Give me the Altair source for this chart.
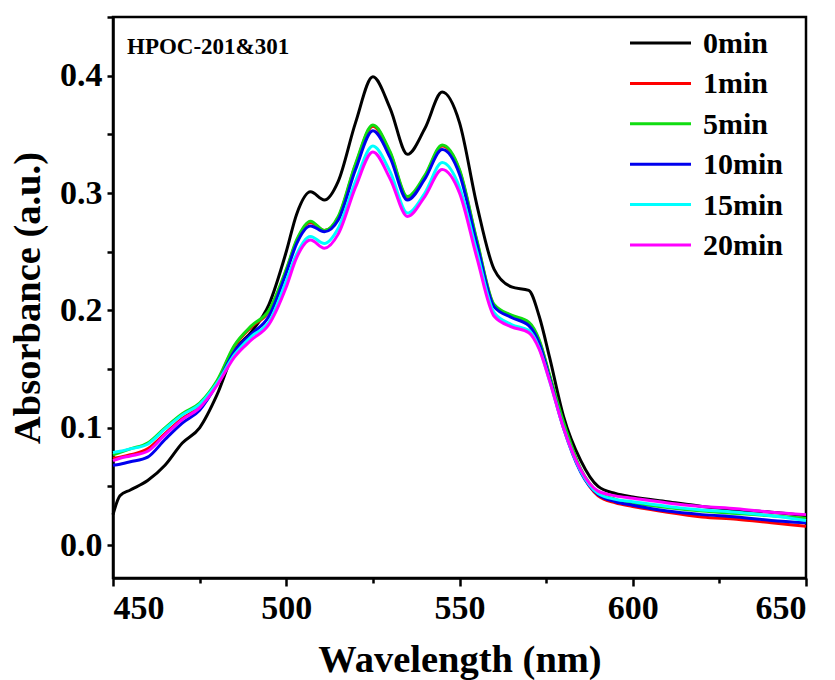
import altair as alt
import pandas as pd

wavelength = [450, 452, 455, 460, 465, 470, 475, 480, 485, 490, 495, 500, 503, 507, 511, 515, 520, 525,
              530, 535, 540, 545, 550, 555, 560, 565, 570, 573, 576, 580, 585, 590, 595, 600, 610, 620,
              630, 640, 650]

t0 = [0.026, 0.042, 0.047, 0.055, 0.068, 0.087, 0.100, 0.128, 0.165, 0.182, 0.205, 0.250, 0.282, 0.301,
      0.294, 0.310, 0.360, 0.399, 0.372, 0.333, 0.355, 0.386, 0.360, 0.290, 0.235, 0.220, 0.217, 0.195,
      0.160, 0.110, 0.072, 0.050, 0.044, 0.041, 0.037, 0.033, 0.030, 0.028, 0.025]
t1 = [0.074, 0.075, 0.077, 0.082, 0.095, 0.108, 0.118, 0.139, 0.169, 0.186, 0.199, 0.234, 0.259, 0.275,
      0.268, 0.279, 0.324, 0.357, 0.334, 0.296, 0.314, 0.340, 0.319, 0.259, 0.204, 0.195, 0.189, 0.174,
      0.144, 0.103, 0.063, 0.042, 0.036, 0.033, 0.028, 0.024, 0.022, 0.019, 0.016]
t5 = [0.077, 0.079, 0.082, 0.087, 0.100, 0.112, 0.121, 0.140, 0.170, 0.187, 0.200, 0.235, 0.260, 0.276,
      0.268, 0.280, 0.325, 0.358, 0.335, 0.297, 0.315, 0.341, 0.320, 0.260, 0.205, 0.196, 0.190, 0.175,
      0.145, 0.105, 0.065, 0.045, 0.039, 0.036, 0.032, 0.029, 0.027, 0.025, 0.023]
t10 = [0.068, 0.069, 0.071, 0.075, 0.090, 0.104, 0.115, 0.137, 0.165, 0.180, 0.195, 0.232, 0.257, 0.272,
       0.267, 0.277, 0.320, 0.353, 0.330, 0.294, 0.312, 0.337, 0.316, 0.257, 0.203, 0.194, 0.187, 0.172,
       0.142, 0.100, 0.062, 0.043, 0.037, 0.034, 0.029, 0.026, 0.024, 0.021, 0.019]
t15 = [0.079, 0.080, 0.082, 0.086, 0.099, 0.111, 0.120, 0.138, 0.162, 0.178, 0.190, 0.225, 0.248, 0.263,
       0.257, 0.270, 0.310, 0.340, 0.318, 0.283, 0.300, 0.326, 0.305, 0.250, 0.198, 0.188, 0.183, 0.168,
       0.140, 0.100, 0.063, 0.044, 0.039, 0.037, 0.033, 0.030, 0.028, 0.025, 0.021]
t20 = [0.072, 0.074, 0.076, 0.080, 0.094, 0.107, 0.117, 0.136, 0.160, 0.175, 0.188, 0.220, 0.245, 0.260,
       0.253, 0.265, 0.305, 0.335, 0.312, 0.280, 0.297, 0.320, 0.300, 0.245, 0.195, 0.186, 0.181, 0.167,
       0.140, 0.100, 0.064, 0.046, 0.042, 0.040, 0.036, 0.033, 0.031, 0.028, 0.026]

series_names = ["0min", "1min", "5min", "10min", "15min", "20min"]
series_values = [t0, t1, t5, t10, t15, t20]
series_colors = ["#000000", "#ff0000", "#11dd11", "#0000ee", "#00ffff", "#ff00ff"]

x_ticks = [450, 475, 500, 525, 550, 575, 600, 625, 650]
y_ticks = [0.0, 0.05, 0.1, 0.15, 0.2, 0.25, 0.3, 0.35, 0.4, 0.45]

rows = []
for name, vals in zip(series_names, series_values):
    for w, a in zip(wavelength, vals):
        rows.append({"wl": w, "abs": a, "time": name, "ord": series_names.index(name)})
df = pd.DataFrame(rows)
leg_df = pd.DataFrame({"time": series_names, "idx": list(range(len(series_names)))})

FONT = "Liberation Serif"
color_scale = alt.Scale(domain=series_names, range=series_colors)

lines = alt.Chart(df).mark_line(strokeWidth=3, interpolate="monotone").encode(
    x=alt.X("wl:Q",
            scale=alt.Scale(domain=[450, 650], nice=False, zero=False),
            axis=alt.Axis(title="Wavelength (nm)", values=x_ticks,
                          labelExpr="datum.value % 50 === 0 ? datum.label : ''",
                          tickSize={"condition": {"test": "datum.value % 50 === 0", "value": 8}, "value": 5})),
    y=alt.Y("abs:Q",
            scale=alt.Scale(domain=[-0.028, 0.45], nice=False, zero=False),
            axis=alt.Axis(title="Absorbance (a.u.)", values=y_ticks, format=".1f", tickSize=6,
                          labelExpr="abs(datum.value*10 - round(datum.value*10)) < 0.001 ? datum.label : ''")),
    color=alt.Color("time:N", scale=color_scale, legend=None),
    detail="ord:O",
)

# legend built from the series names (rows spaced evenly)
leg_y = alt.Y("idx:Q", scale=alt.Scale(domain=[0, 5], range=[26, 228], nice=False, zero=False), axis=None)
leg_lines = alt.Chart(leg_df).mark_rule(strokeWidth=3).encode(
    x=alt.value(517), x2=alt.value(578), y=leg_y,
    color=alt.Color("time:N", scale=color_scale, legend=None),
)
leg_text = alt.Chart(leg_df).mark_text(
    font=FONT, fontSize=30, fontWeight="bold", align="left", baseline="middle", color="black", dy=1
).encode(x=alt.value(590), y=leg_y, text="time:N")

legend = alt.layer(leg_lines, leg_text)

label = alt.Chart(pd.DataFrame({"t": ["HPOC-201&301"]})).mark_text(
    font=FONT, fontSize=23, fontWeight="bold", align="left", baseline="middle", color="black"
).encode(x=alt.value(14), y=alt.value(30), text="t:N")

chart = alt.layer(lines, legend, label).resolve_scale(y="independent").properties(
    width=693, height=561,
    autosize=alt.AutoSizeParams(type="none"),
    padding={"left": 113, "top": 17, "right": 29, "bottom": 102},
).configure_view(
    stroke="black", strokeWidth=2.5
).configure_axis(
    domainColor="black", domainWidth=2.5, tickColor="black", tickWidth=2.5,
    labelFont=FONT, labelFontSize=34, labelFontWeight="bold", labelColor="black",
    titleFont=FONT, titleFontSize=38.5, titleFontWeight="bold", titleColor="black",
    grid=False, labelPadding=5,
).configure_axisX(titlePadding=16).configure_axisY(titlePadding=12)

chart.save("out.html", embed_options={"renderer": "svg", "actions": False})
